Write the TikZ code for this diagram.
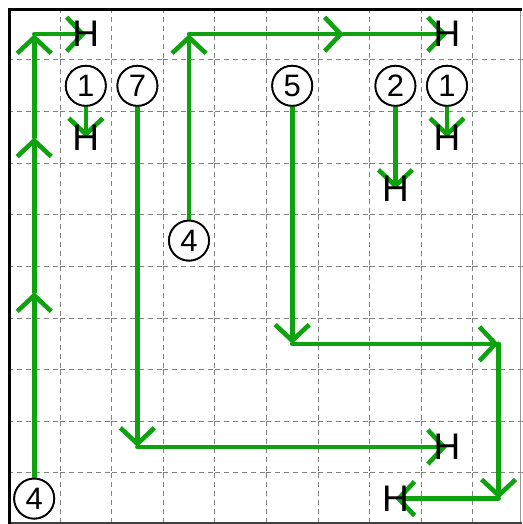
\documentclass[tikz,border=0pt]{standalone}
\usepackage{fontspec}
\setmainfont{Liberation Sans}
\usetikzlibrary{arrows.meta}
\definecolor{pathgreen}{RGB}{14,162,14}
\definecolor{gridgray}{RGB}{130,130,130}
\definecolor{edgegray}{RGB}{150,150,150}
\tikzset{
  flow/.style={draw=pathgreen, line width=4.6pt, line cap=round,
    -{Straight Barb[length=16pt,width=34pt,line width=4.6pt]}},
  numcirc/.style={circle, draw=black, line width=1.8pt, fill=white,
    minimum size=40pt, inner sep=0pt, font=\fontsize{31}{31}\selectfont},
  haltmark/.style={inner sep=0pt, text=black, font=\fontsize{37}{37}\selectfont},
  cellline/.style={draw=gridgray, line width=1pt, dash pattern=on 5pt off 4pt},
}
\begin{document}
\begin{tikzpicture}[x=1pt,y=1pt]
\useasboundingbox (0,0) rectangle (522,-524);
% grid cells
\foreach \i in {0,...,9}{
  \foreach \j in {0,...,9}{
    \pgfmathsetmacro{\xa}{8.4+51.6*\i}
    \pgfmathsetmacro{\ya}{-8.4-51.6*\j}
    \ifnum\j>0 \draw[cellline] (\xa,\ya) -- ++(51.6,0); \fi
    \ifnum\i>0 \draw[cellline] (\xa,\ya) -- ++(0,-51.6); \fi
  }
}
% frame
\draw[edgegray, line width=1.5pt] (520.5,-8) -- (520.5,-524);
\draw[black!75, line width=2pt] (8,-522.5) -- (522,-522.5);
\draw[black, line width=3pt] (9.5,-524) -- (9.5,-9.5) -- (522,-9.5);
% cell centres
\foreach \i in {0,...,9}{
  \foreach \j in {0,...,9}{
    \coordinate (p\i\j) at ({34.2+51.6*\i},{-34.2-51.6*\j});
  }
}
% numbered circles
\node[numcirc] (n4a) at (p09) {4};
\node[numcirc] (n1a) at (p11) {1};
\node[numcirc] (n7)  at (p21) {7};
\node[numcirc] (n4b) at (p34) {4};
\node[numcirc] (n5)  at (p51) {5};
\node[numcirc] (n2)  at (p71) {2};
\node[numcirc] (n1b) at (p81) {1};
% end positions
\coordinate (e1) at (p10);
\coordinate (e2) at (p12);
\coordinate (e3) at (p80);
\coordinate (e4) at (p82);
\coordinate (e5) at (p73);
\coordinate (e6) at (p88);
\coordinate (e7) at (p79);
% paths
\draw[flow] (n4a) -- (p05);
\draw[flow] (p05) -- (p02);
\draw[flow] (p02) -- (p00);
\draw[flow] (p00) -- (e1);
\draw[flow] (n1a) -- (e2);
\draw[flow] (n7) -- (p28);
\draw[flow] (p28) -- (e6);
\draw[flow] (n4b) -- (p30);
\draw[flow] (p30) -- (p60);
\draw[flow] (p60) -- (e3);
\draw[flow] (n5) -- (p56);
\draw[flow] (p56) -- (p96);
\draw[flow] (p96) -- (p99);
\draw[flow] (p99) -- (e7);
\draw[flow] (n2) -- (e5);
\draw[flow] (n1b) -- (e4);
% redraw circles on top
\foreach \n/\p/\t in {n4a/p09/4,n1a/p11/1,n7/p21/7,n4b/p34/4,n5/p51/5,n2/p71/2,n1b/p81/1}{
  \node[numcirc] at (\p) {\t};
}
% halt marks
\node[haltmark] (h1) at (e1) {H};
\node[haltmark] (h2) at (e2) {H};
\node[haltmark] (h3) at (e3) {H};
\node[haltmark] (h4) at (e4) {H};
\node[haltmark] (h5) at (e5) {H};
\node[haltmark] (h6) at (e6) {H};
\node[haltmark] (h7) at (e7) {H};
\end{tikzpicture}
\end{document}
